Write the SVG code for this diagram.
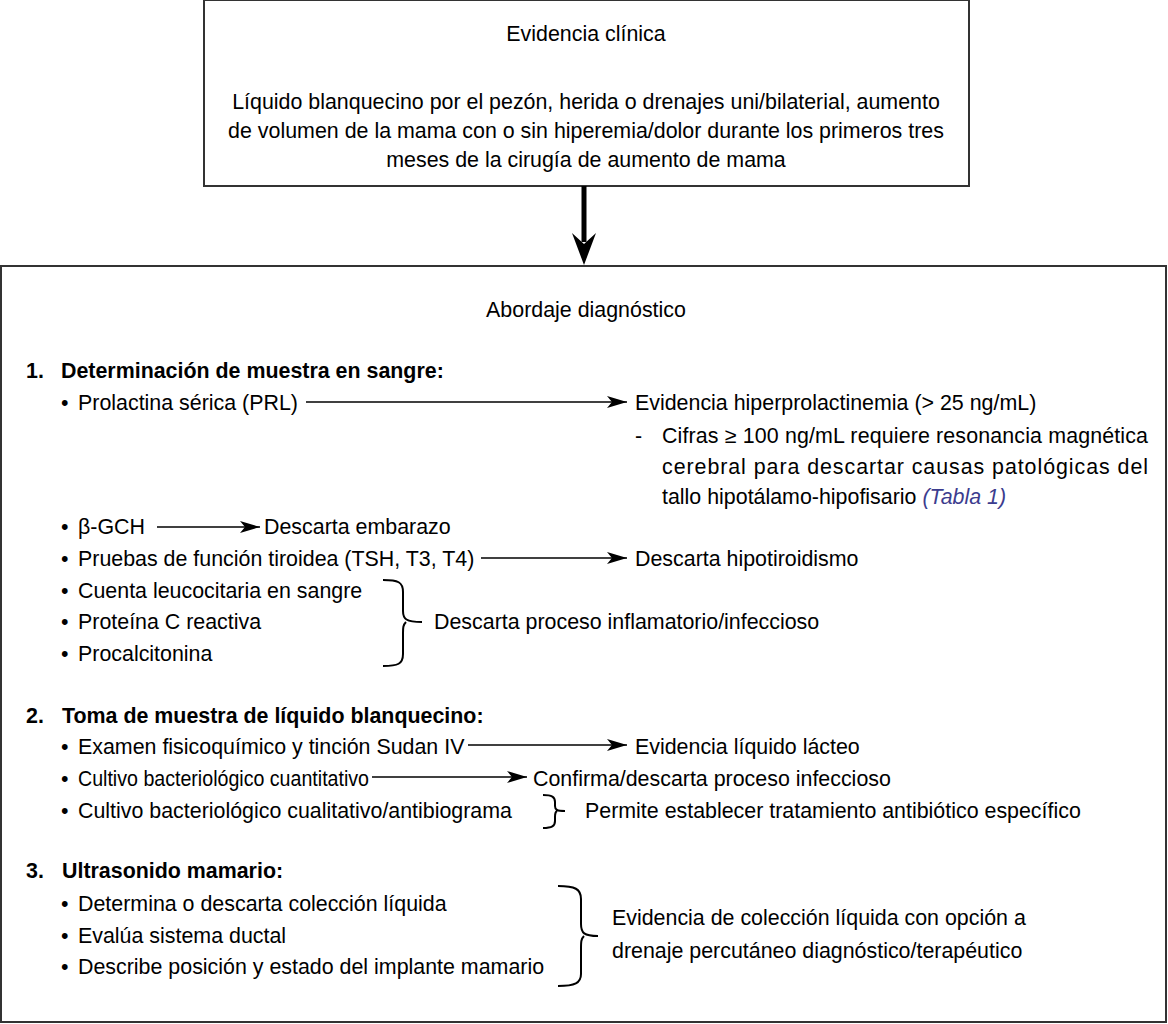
<svg xmlns="http://www.w3.org/2000/svg" width="1168" height="1024" viewBox="0 0 1168 1024">
<style>
.t{font-family:"Liberation Sans",Arial,Helvetica,sans-serif;font-size:21.4px;fill:#000}
.c{text-anchor:middle}
.b{font-weight:bold}
.box{fill:#fff;stroke:#333;stroke-width:2}
.ln{stroke:#000;stroke-width:1.6;fill:none}
.br{stroke:#000;stroke-width:2;fill:none}
.ref{fill:#3c3c8e;font-style:italic}
</style>
<defs>
<marker id="ah" markerUnits="userSpaceOnUse" markerWidth="20" markerHeight="14" refX="20" refY="7" orient="auto">
<path d="M0,1 L20,7 L0,13 L5,7 Z" fill="#000"/>
</marker>
</defs>
<rect width="1168" height="1024" fill="#fff"/>
<g id="node-evidencia">
<rect class="box" x="204" y="0" width="765" height="186"/>
<text class="t c" x="586" y="41">Evidencia clínica</text>
<text class="t c" x="586" y="109">Líquido blanquecino por el pezón, herida o drenajes uni/bilaterial, aumento</text>
<text class="t c" x="586" y="138">de volumen de la mama con o sin hiperemia/dolor durante los primeros tres</text>
<text class="t c" x="586" y="167">meses de la cirugía de aumento de mama</text>
</g>
<g id="node-abordaje">
<rect class="box" x="1" y="266" width="1165" height="756"/>
<text class="t c" x="586" y="317">Abordaje diagnóstico</text>
<text class="t b" x="26" y="378">1.</text>
<text class="t b" x="61" y="378">Determinación de muestra en sangre:</text>
<text class="t" x="61" y="410">•</text><text class="t" x="78" y="410">Prolactina sérica (PRL)</text>
<text class="t" x="635" y="410">Evidencia hiperprolactinemia (&gt; 25 ng/mL)</text>
<text class="t" x="635" y="443">-</text>
<text class="t" x="662" y="443" textLength="486" lengthAdjust="spacing">Cifras ≥ 100 ng/mL requiere resonancia magnética</text>
<text class="t" x="662" y="474" textLength="486" lengthAdjust="spacing">cerebral para descartar causas patológicas del</text>
<text class="t" x="662" y="504">tallo hipotálamo-hipofisario <tspan class="ref">(Tabla 1)</tspan></text>
<text class="t" x="61" y="534">•</text><text class="t" x="78" y="534">β-GCH</text>
<text class="t" x="264" y="534">Descarta embarazo</text>
<text class="t" x="61" y="566">•</text><text class="t" x="78" y="566">Pruebas de función tiroidea (TSH, T3, T4)</text>
<text class="t" x="635" y="566">Descarta hipotiroidismo</text>
<text class="t" x="61" y="598">•</text><text class="t" x="78" y="598">Cuenta leucocitaria en sangre</text>
<text class="t" x="61" y="629">•</text><text class="t" x="78" y="629">Proteína C reactiva</text>
<text class="t" x="61" y="661">•</text><text class="t" x="78" y="661">Procalcitonina</text>
<text class="t" x="434" y="629">Descarta proceso inflamatorio/infeccioso</text>
<text class="t b" x="26" y="723">2.</text>
<text class="t b" x="62" y="723">Toma de muestra de líquido blanquecino:</text>
<text class="t" x="61" y="754">•</text><text class="t" x="78" y="754">Examen fisicoquímico y tinción Sudan IV</text>
<text class="t" x="635" y="754">Evidencia líquido lácteo</text>
<text class="t" x="61" y="786">•</text><text class="t" x="78" y="786" textLength="291" lengthAdjust="spacingAndGlyphs">Cultivo bacteriológico cuantitativo</text>
<text class="t" x="533" y="786">Confirma/descarta proceso infeccioso</text>
<text class="t" x="61" y="818">•</text><text class="t" x="78" y="818">Cultivo bacteriológico cualitativo/antibiograma</text>
<text class="t" x="585" y="818">Permite establecer tratamiento antibiótico específico</text>
<text class="t b" x="26" y="878">3.</text>
<text class="t b" x="62" y="878">Ultrasonido mamario:</text>
<text class="t" x="61" y="911">•</text><text class="t" x="78" y="911">Determina o descarta colección líquida</text>
<text class="t" x="61" y="943">•</text><text class="t" x="78" y="943">Evalúa sistema ductal</text>
<text class="t" x="61" y="974">•</text><text class="t" x="78" y="974">Describe posición y estado del implante mamario</text>
<text class="t" x="612" y="925">Evidencia de colección líquida con opción a</text>
<text class="t" x="612" y="958">drenaje percutáneo diagnóstico/terapéutico</text>
</g>
<g id="connectors">
<line x1="584" y1="186" x2="584" y2="242" stroke="#000" stroke-width="5"/>
<path d="M572,233 L584,265 L596,233 L584,244 Z" fill="#000"/>
<line class="ln" x1="306" y1="402" x2="627" y2="402" marker-end="url(#ah)"/>
<line class="ln" x1="157" y1="527" x2="260" y2="527" marker-end="url(#ah)"/>
<line class="ln" x1="481" y1="558" x2="627" y2="558" marker-end="url(#ah)"/>
<line class="ln" x1="468" y1="745" x2="627" y2="745" marker-end="url(#ah)"/>
<line class="ln" x1="372" y1="777" x2="527" y2="777" marker-end="url(#ah)"/>
<path class="br" d="M383,580 C398,580 403,582 403,592 L403,611 C403,619 406,622 422,622 M406,622 C403,625 403,628 403,633 L403,654 C403,664 398,666 383,666"/>
<path class="br" d="M543,795 C552,795 555,797 555,802 L555,806 C555,810 557,811 565,811 M557,811 C555,812 555,814 555,817 L555,821 C555,826 552,828 543,828"/>
<path class="br" d="M558,886 C575,886 581,889 581,899 L581,924 C581,933 584,936 598,936 M584,936 C581,939 581,942 581,949 L581,974 C581,983 575,986 558,986"/>
</g>
</svg>
